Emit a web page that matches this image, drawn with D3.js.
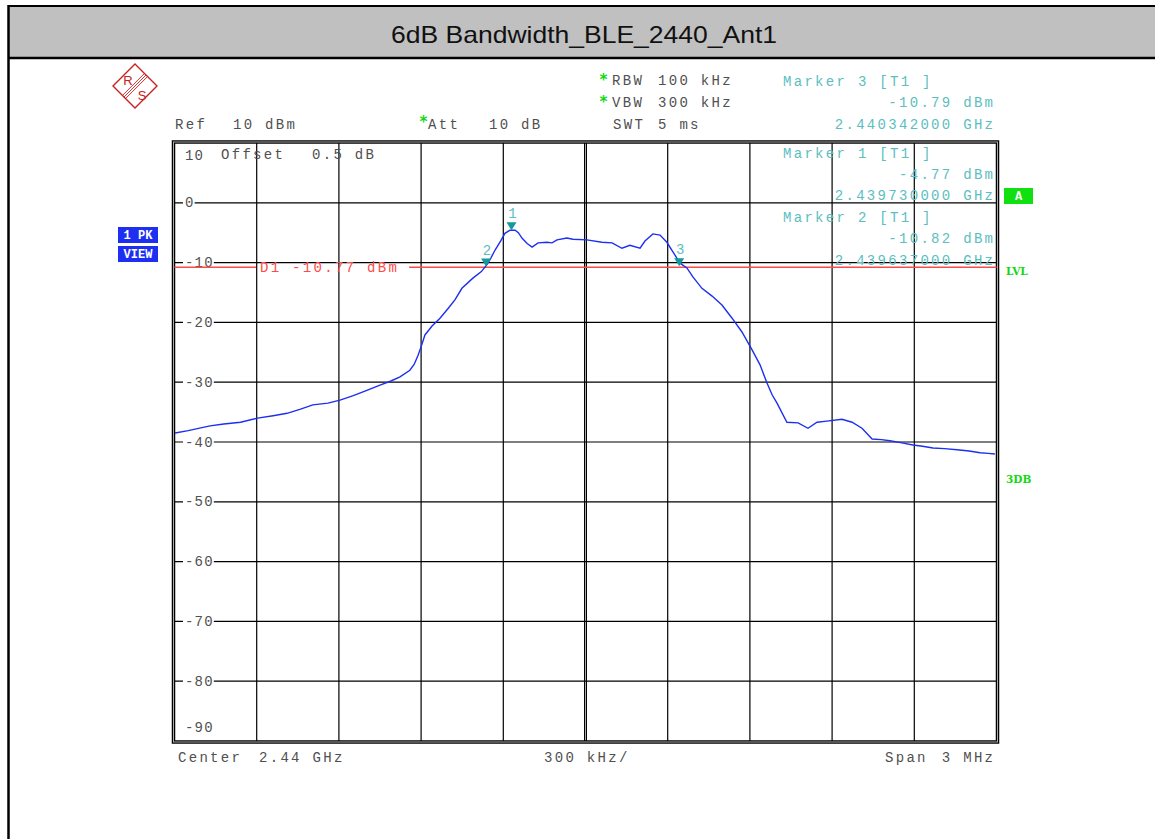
<!DOCTYPE html>
<html><head><meta charset="utf-8">
<script src="https://cdn.jsdelivr.net/npm/d3@7"></script>
<style>
html,body{margin:0;padding:0;background:#fff;}
svg{display:block;}
.mono{font-family:"Liberation Mono","Courier New",monospace;font-size:14px;letter-spacing:2.3px;}
</style></head>
<body>
<svg id="chart" width="1155" height="839"></svg>
<script>
// ---------------- data ----------------
const title = "6dB Bandwidth_BLE_2440_Ant1";
const centerGHz = 2.44;
const spanMHz = 3;
const refLevel = 10;
const yTicks = [10, 0, -10, -20, -30, -40, -50, -60, -70, -80, -90];
const xGridMHz = [-1.5, -1.2, -0.9, -0.6, -0.3, 0, 0.3, 0.6, 0.9, 1.2, 1.5];
// trace: offset from center (MHz) and level (dBm)
const traceOffsetMHz = [-1.498,-1.450,-1.400,-1.370,-1.320,-1.259,-1.197,-1.140,-1.089,-1.040,-0.995,-0.940,-0.896,-0.850,-0.805,-0.750,-0.710,-0.677,-0.641,-0.625,-0.611,-0.598,-0.586,-0.560,-0.531,-0.500,-0.476,-0.451,-0.411,-0.380,-0.359,-0.345,-0.330,-0.310,-0.294,-0.276,-0.257,-0.245,-0.232,-0.213,-0.195,-0.173,-0.141,-0.122,-0.104,-0.068,-0.046,0.005,0.060,0.097,0.133,0.162,0.199,0.217,0.246,0.272,0.297,0.319,0.345,0.370,0.392,0.425,0.462,0.498,0.535,0.571,0.608,0.637,0.662,0.681,0.699,0.735,0.776,0.812,0.845,0.881,0.936,0.973,1.009,1.046,1.080,1.111,1.150,1.195,1.230,1.268,1.310,1.356,1.400,1.440,1.470,1.494];
const traceLevel = [-38.5,-38.1,-37.6,-37.3,-37.0,-36.7,-36.0,-35.6,-35.2,-34.5,-33.8,-33.5,-33.0,-32.3,-31.5,-30.5,-29.8,-29.1,-28.0,-27.0,-25.5,-23.8,-22.1,-20.6,-19.3,-17.6,-16.2,-14.3,-12.6,-11.5,-10.3,-9.2,-7.9,-6.4,-5.1,-4.6,-4.6,-5.0,-5.9,-6.8,-7.4,-6.7,-6.6,-6.7,-6.2,-5.9,-6.1,-6.2,-6.6,-6.7,-7.6,-7.1,-7.6,-6.4,-5.2,-5.4,-6.6,-8.2,-10.1,-10.9,-12.4,-14.3,-15.6,-17.1,-19.3,-21.6,-24.6,-27.1,-30.1,-32.1,-33.5,-36.7,-36.8,-37.7,-36.7,-36.5,-36.2,-36.7,-37.7,-39.5,-39.6,-39.8,-40.1,-40.5,-40.7,-41.0,-41.1,-41.3,-41.5,-41.8,-41.9,-42.0];
const markerIds = [1, 2, 3];
const markerFreqGHz = [2.439730, 2.439637, 2.440342];
const markerLevel = [-4.77, -10.82, -10.79];
const displayLineLevel = -10.77;
const markerInfoOrder = [3, 1, 2];

// ---------------- layout ----------------
const svg = d3.select("#chart");
const X0 = 174.5, X1 = 996.5, Y0 = 143, Y1 = 741;
const x = d3.scaleLinear().domain([-spanMHz/2, spanMHz/2]).range([X0, X1]);
const y = d3.scaleLinear().domain([refLevel, refLevel - 100]).range([Y0, Y1]);
const GREY = "#505050", TEAL = "#5cbebe", TEALD = "#139a9a", RED = "#ff4a4a", BLUE = "#1d2ff0", GREEN = "#12d812";

// header
svg.append("rect").attr("x", 9).attr("y", 6).attr("width", 1146).attr("height", 52).attr("fill", "#c0c0c0");
svg.append("line").attr("x1", 8).attr("x2", 1155).attr("y1", 6).attr("y2", 6).attr("stroke", "#000").attr("stroke-width", 2);
svg.append("line").attr("x1", 8).attr("x2", 1155).attr("y1", 58).attr("y2", 58).attr("stroke", "#000").attr("stroke-width", 2.5);
svg.append("line").attr("x1", 8.5).attr("x2", 8.5).attr("y1", 5).attr("y2", 839).attr("stroke", "#000").attr("stroke-width", 2.5);
svg.append("text").attr("x", 584).attr("y", 43).attr("text-anchor", "middle")
  .attr("font-family", "Liberation Sans, Arial, sans-serif").attr("font-size", 24)
  .attr("textLength", 386).attr("lengthAdjust", "spacingAndGlyphs")
  .attr("fill", "#111").text(title);

// R&S logo
const logo = svg.append("g").attr("transform", "translate(135,86)");
logo.append("path").attr("d", "M0,-22L22,0L0,22L-22,0Z").attr("fill", "none").attr("stroke", "#cc2020").attr("stroke-width", 1.4);
[-2.2, 0, 2.2].forEach(o => logo.append("line").attr("x1", 11 + o*0.7).attr("y1", -11 + o*0.7).attr("x2", -11 + o*0.7).attr("y2", 11 + o*0.7).attr("stroke", "#cc2020").attr("stroke-width", 0.9));
logo.append("text").attr("x", -7).attr("y", -1).attr("font-family", "Liberation Sans, sans-serif").attr("font-size", 13).attr("fill", "#cc2020").attr("text-anchor", "middle").text("R");
logo.append("text").attr("x", 7).attr("y", 14).attr("font-family", "Liberation Sans, sans-serif").attr("font-size", 13).attr("fill", "#cc2020").attr("text-anchor", "middle").text("S");

// grid
const grid = svg.append("g");
grid.selectAll(".vg").data(xGridMHz.slice(1, -1)).join("line")
  .attr("x1", d => x(d)).attr("x2", d => x(d)).attr("y1", Y0).attr("y2", Y1)
  .attr("stroke", "#000").attr("stroke-width", d => d === 0 ? 3 : 1.2);
grid.append("line").attr("x1", x(0)).attr("x2", x(0)).attr("y1", Y0).attr("y2", Y1).attr("stroke", "#aaa").attr("stroke-width", 1);
grid.selectAll(".hg").data(yTicks.slice(1, -1)).join("line")
  .attr("x1", X0).attr("x2", X1).attr("y1", d => y(d)).attr("y2", d => y(d))
  .attr("stroke", "#000").attr("stroke-width", 1.2);
// frame
svg.append("rect").attr("x", X0 - 1).attr("y", Y0 - 1).attr("width", X1 - X0 + 2).attr("height", Y1 - Y0 + 2)
  .attr("fill", "none").attr("stroke", "#000").attr("stroke-width", 3.5);
svg.append("rect").attr("x", X0 - 1).attr("y", Y0 - 1).attr("width", X1 - X0 + 2).attr("height", Y1 - Y0 + 2)
  .attr("fill", "none").attr("stroke", "#aaa").attr("stroke-width", 1);

// y labels
const yl = svg.append("g");
yTicks.forEach(v => {
  let cy = y(v);
  if (v === yTicks[0]) cy = y(v) + 12;
  if (v === yTicks[yTicks.length - 1]) cy = y(v) - 14;
  const t = yl.append("text").attr("class", "mono").style("letter-spacing", "1.2px")
    .attr("x", 185).attr("y", cy + 4.5).attr("fill", GREY).text(v);
  if (v !== yTicks[0] && v !== yTicks[yTicks.length - 1]) {
    const w = t.node().getComputedTextLength();
    yl.insert("rect", "text").attr("x", 183).attr("y", cy - 3).attr("width", w + 2).attr("height", 6).attr("fill", "#fff");
  }
});

function txt(s, tx, ty, color, anchor) {
  const t = svg.append("text").attr("class", "mono").attr("x", anchor === "end" ? tx + 2.3 : tx).attr("y", ty)
    .attr("fill", color).attr("text-anchor", anchor || "start").text(s);
  return t;
}
function star(tx, ty) {
  svg.append("text").attr("x", tx).attr("y", ty).attr("font-family", "DejaVu Sans Mono, monospace").attr("font-size", 15)
    .attr("font-weight", "bold").attr("fill", GREEN).text("*");
}

// instrument settings
star(599, 85); txt("RBW", 612, 85, GREY); txt("100 kHz", 658, 85, GREY);
star(599, 107); txt("VBW", 612, 107, GREY); txt("300 kHz", 658, 107, GREY);
txt("SWT", 613, 129, GREY); txt("5 ms", 658, 129, GREY);
txt("Ref", 175, 129, GREY); txt("10 dBm", 233, 129, GREY);
star(419, 127); txt("Att", 428, 129, GREY); txt("10 dB", 489, 129, GREY);
txt("Offset", 221, 159, GREY); txt("0.5 dB", 312, 159, GREY);
txt("Center", 178, 762, GREY); txt("2.44 GHz", 259, 762, GREY);
txt("300 kHz/", 544, 762, GREY);
txt("Span", 885, 762, GREY); txt("3 MHz", 993, 762, GREY, "end");

// marker info block
const infoY = [[86, 107, 129], [158, 179, 200], [222, 243, 265]];
markerInfoOrder.forEach((id, i) => {
  const k = markerIds.indexOf(id);
  txt("Marker " + id + " [T1 ]", 783, infoY[i][0], TEAL);
  txt(markerLevel[k].toFixed(2) + " dBm", 993, infoY[i][1], TEAL, "end");
  txt(markerFreqGHz[k].toFixed(9) + " GHz", 993, infoY[i][2], TEAL, "end");
});

// display line D1
const dY = y(displayLineLevel);
const dLabel = txt("D1 " + displayLineLevel.toFixed(2) + " dBm", 260, dY + 5, RED);
const dW = dLabel.node().getComputedTextLength();
svg.append("line").attr("x1", X0).attr("x2", 256).attr("y1", dY).attr("y2", dY).attr("stroke", RED).attr("stroke-width", 1.5);
svg.append("line").attr("x1", 260 + dW + 10).attr("x2", X1).attr("y1", dY).attr("y2", dY).attr("stroke", RED).attr("stroke-width", 1.5);

// trace
const pts = traceOffsetMHz.map((f, i) => [f, traceLevel[i]]);
svg.append("path").datum(pts).attr("fill", "none").attr("stroke", BLUE).attr("stroke-width", 1.4)
  .attr("d", d3.line().x(d => x(d[0])).y(d => y(d[1])));

// markers
markerIds.forEach((id, k) => {
  const mx = x((markerFreqGHz[k] - centerGHz) * 1000), my = y(markerLevel[k]);
  svg.append("path").attr("d", `M${mx - 5},${my - 9}L${mx + 5},${my - 9}L${mx},${my - 1}Z`).attr("fill", TEALD);
  svg.append("text").attr("class", "mono").attr("x", mx + 1).attr("y", my - 13).attr("fill", TEAL)
    .attr("text-anchor", "middle").style("letter-spacing", "0px").text(id);
});

// side badges
function badge(s, bx, by, w, h, bg) {
  svg.append("rect").attr("x", bx).attr("y", by).attr("width", w).attr("height", h).attr("fill", bg);
  svg.append("text").attr("x", bx + w / 2).attr("y", by + h - 4).attr("text-anchor", "middle")
    .attr("font-family", "Liberation Mono, monospace").attr("font-size", 12).attr("font-weight", "bold")
    .attr("fill", "#fff").text(s);
}
badge("1 PK", 118, 227, 40, 16, BLUE);
badge("VIEW", 118, 246, 40, 16, BLUE);
badge("A", 1004, 188, 29, 16, "#10e010");
function side(s, sx, sy) {
  svg.append("text").attr("x", sx).attr("y", sy).attr("font-family", "DejaVu Serif, serif").attr("font-size", 10.5)
    .attr("font-weight", "bold").attr("fill", GREEN).text(s);
}
side("LVL", 1006, 275);
side("3DB", 1006, 483);
</script>
</body></html>
